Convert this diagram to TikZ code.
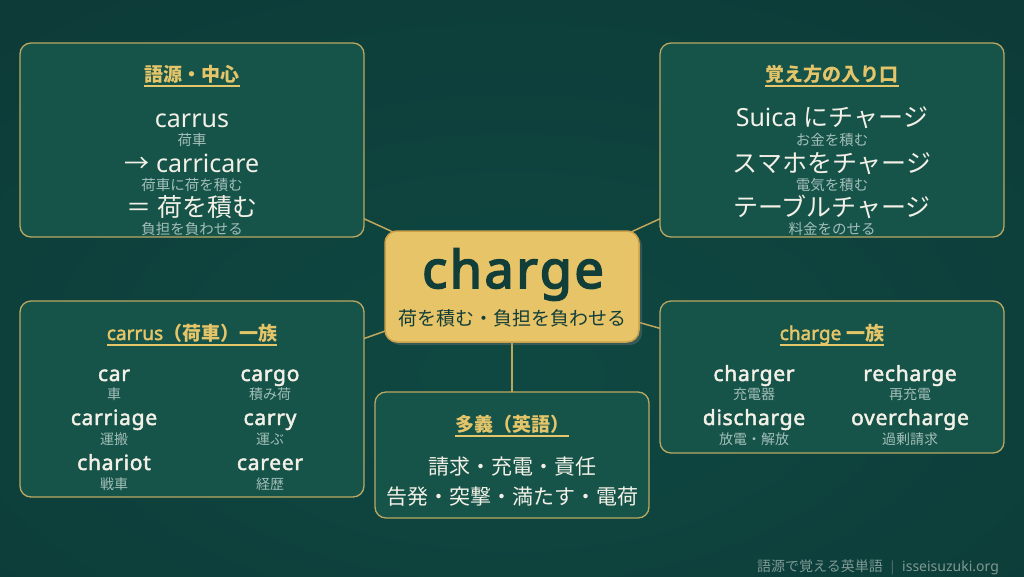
\documentclass[tikz,border=0pt]{standalone}
\usepackage{fontspec}
\setmainfont{Noto Sans}[BoldFont={Noto Sans}, BoldFeatures={FakeBold=2.2}]
\newfontfamily\jp{Noto Sans CJK JP}
\newfontfamily\heavy{Noto Sans}[FakeBold=3.4, LetterSpace=5]
\usetikzlibrary{shadows}
\definecolor{bgA}{HTML}{0F4842}
\definecolor{bgM}{HTML}{0D3E3A}
\definecolor{bgB}{HTML}{0B3331}
\definecolor{boxfill}{HTML}{165349}
\definecolor{boxline}{HTML}{BBA862}
\definecolor{gold}{HTML}{E5C56A}
\definecolor{maintext}{HTML}{F3F1E7}
\definecolor{subtext}{HTML}{A2BFB8}
\definecolor{cfill}{HTML}{E8C468}
\definecolor{cline}{HTML}{C9A14A}
\definecolor{ctext}{HTML}{123E39}
\definecolor{foot}{HTML}{7F9994}
\definecolor{connc}{HTML}{BFA65B}
\pgfdeclareradialshading{bgshade}{\pgfpoint{0bp}{-8bp}}{color(0bp)=(bgA); color(30bp)=(bgM); color(60bp)=(bgB); color(80bp)=(bgB)}
\pgfdeclarelayer{bglayer}
\pgfdeclarelayer{linelayer}
\pgfsetlayers{bglayer,linelayer,main}
\tikzset{
  panel/.style={draw=boxline, line width=1.3pt, fill=boxfill, rounded corners=11pt, inner sep=0pt},
  core/.style={draw=cline, line width=1.5pt, fill=cfill, rounded corners=12pt, inner sep=0pt,
    drop shadow={opacity=0.35, shadow xshift=3pt, shadow yshift=-3pt}},
  txt/.style={inner sep=0pt, anchor=base},
  ttl/.style={txt, text=gold, font=\fontsize{19}{19}\selectfont\bfseries},
  big/.style={txt, text=maintext, font=\fontsize{25}{25}\selectfont},
  sub/.style={txt, text=subtext, font=\fontsize{14.5}{15}\selectfont\jp},
  word/.style={txt, text=maintext, font=\fontsize{21}{21}\selectfont\bfseries\addfontfeature{LetterSpace=3.5}},
  wsub/.style={txt, text=subtext, font=\fontsize{14}{14}\selectfont\jp},
  sense/.style={txt, text=maintext, font=\fontsize{21}{21}\selectfont\jp},
  uline/.style={draw=gold, line width=1.3pt},
  link/.style={draw=connc, line width=1.5pt},
  foottxt/.style={txt, text=foot, font=\fontsize{14}{14}\selectfont},
}
\begin{document}
\begin{tikzpicture}[x=1pt,y=-1pt]
\useasboundingbox (0,0) rectangle (1024,576);
\begin{pgfonlayer}{bglayer}
\shade[shading=bgshade] (0,0) rectangle (1024,576);
\end{pgfonlayer}

% panels
\node[panel, minimum width=344pt, minimum height=194pt] (p1) at (192,140) {};
\node[panel, minimum width=344pt, minimum height=194pt] (p2) at (832,140) {};
\node[panel, minimum width=344pt, minimum height=196pt] (p3) at (192,399) {};
\node[panel, minimum width=344pt, minimum height=152pt] (p4) at (832,377) {};
\node[panel, minimum width=274pt, minimum height=126pt] (p5) at (512,455) {};
\node[core, minimum width=254pt, minimum height=111pt] (c) at (512,286.5) {};

\begin{pgfonlayer}{linelayer}
\draw[link] (c.center) -- (p1.center);
\draw[link] (c.center) -- (p2.center);
\draw[link] (c.center) -- (p3.center);
\draw[link] (c.center) -- (p4.center);
\draw[link] (c.center) -- (p5.center);
\end{pgfonlayer}

% center
\node[txt, text=ctext, font=\fontsize{52}{52}\heavy] (cw) at (513,288) {charge};
\node[txt, text=ctext, font=\fontsize{19}{19}\selectfont\jp] (cs) at (512,325) {荷を積む・負担を負わせる};

% top-left
\node[ttl] (t1) at (192,81) {\jp 語源・中心};
\node[big] (a1) at (192,127) {carrus};
\node[sub] (a1s) at (192,145) {荷車};
\node[big] (a2) at (192,172) {{\jp →} carricare};
\node[sub] (a2s) at (192,190) {荷車に荷を積む};
\node[big] (a3) at (192,216) {\jp ＝ 荷を積む};
\node[sub] (a3s) at (192,234) {負担を負わせる};

% top-right
\node[ttl] (t2) at (832,81) {\jp 覚え方の入り口};
\node[big] (b1) at (832,126) {Suica {\jp にチャージ}};
\node[sub] (b1s) at (832,145) {お金を積む};
\node[big] (b2) at (832,172) {\jp スマホをチャージ};
\node[sub] (b2s) at (832,190) {電気を積む};
\node[big] (b3) at (832,216) {\jp テーブルチャージ};
\node[sub] (b3s) at (832,234) {料金をのせる};

% mid-left
\node[ttl] (t3) at (192,340) {carrus{\jp （荷車）一族}};
\node[word] (w1) at (114,381) {car};
\node[wsub] (w1s) at (114,399) {車};
\node[word] (w2) at (114,425) {carriage};
\node[wsub] (w2s) at (114,444) {運搬};
\node[word] (w3) at (114,470) {chariot};
\node[wsub] (w3s) at (114,489) {戦車};
\node[word] (w4) at (270,381) {cargo};
\node[wsub] (w4s) at (270,399) {積み荷};
\node[word] (w5) at (270,425) {carry};
\node[wsub] (w5s) at (270,444) {運ぶ};
\node[word] (w6) at (270,470) {career};
\node[wsub] (w6s) at (270,489) {経歴};

% mid-right
\node[ttl] (t4) at (832,340) {charge {\jp 一族}};
\node[word] (v1) at (754,381) {charger};
\node[wsub] (v1s) at (754,399) {充電器};
\node[word] (v2) at (754,425) {discharge};
\node[wsub] (v2s) at (754,444) {放電・解放};
\node[word] (v3) at (910,381) {recharge};
\node[wsub] (v3s) at (910,399) {再充電};
\node[word] (v4) at (910,425) {overcharge};
\node[wsub] (v4s) at (910,444) {過剰請求};

% bottom
\node[ttl] (t5) at (512,431) {\jp 多義（英語）};
\node[sense] (s1) at (512,474) {請求・充電・責任};
\node[sense] (s2) at (512,504) {告発・突撃・満たす・電荷};

% underlines
\foreach \t in {t1,t2,t3,t4,t5}
  \draw[uline] ([yshift=-5pt]\t.base west) -- ([yshift=-5pt]\t.base east);

% footer
\node[foottxt, anchor=base east] (f1) at (883,571) {\jp 語源で覚える英単語};
\node[foottxt, text=foot!60!bgB] (fbar) at (892.5,571) {|};
\node[foottxt, anchor=base west] (f2) at (902,571) {isseisuzuki.org};
\end{tikzpicture}
\end{document}
